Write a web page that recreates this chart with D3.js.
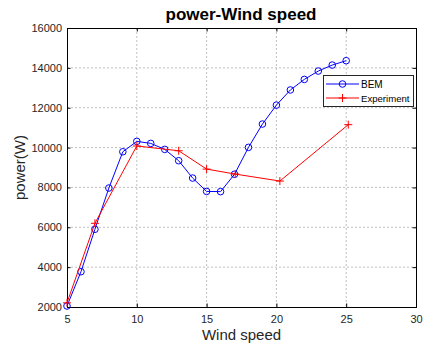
<!DOCTYPE html>
<html>
<head>
<script src="https://d3js.org/d3.v7.min.js"></script>
<style>
    body { margin: 0; background: #fff; }
    svg { display: block; font-family: 'Liberation Sans', Arial, sans-serif; }
</style>
</head>
<body>
<div id="chart"></div>
<script>

// BEM result, integer wind speeds 5..25
var bemSpeed = [5, 6, 7, 8, 9, 10, 11, 12, 13, 14, 15, 16, 17, 18, 19, 20, 21, 22, 23, 24, 25];
var bemPower = [2050, 3770, 5900, 7970, 9790, 10310, 10210, 9910, 9340, 8470, 7800, 7790, 8660, 10010, 11180, 12130, 12890, 13420, 13840, 14140, 14360];

// measured
var expSpeed = [5, 7, 10, 13, 15, 17.05, 20.25, 25.15];
var expPower = [2210, 6200, 10080, 9840, 8920, 8670, 8320, 11150];

var xTicks = [5, 10, 15, 20, 25, 30];
var yTicks = [2000, 4000, 6000, 8000, 10000, 12000, 14000, 16000];

var W = 423, H = 346;
var pLeft = 67, pRight = 416, pTop = 28, pBottom = 307;

var svg = d3.select("#chart").append("svg")
    .attr("width", W)
    .attr("height", H);

var x = d3.scaleLinear().domain([5, 30]).range([pLeft, pRight]);
var y = d3.scaleLinear().domain([2000, 16000]).range([pBottom, pTop]);

//grid
svg.append("g").selectAll("line").data(xTicks.slice(1, -1)).enter().append("line")
    .attr("x1", function(d) { return x(d); })
    .attr("x2", function(d) { return x(d); })
    .attr("y1", pTop).attr("y2", pBottom)
    .style("stroke", "#b0b0b0")
    .style("stroke-width", "0.8px")
    .style("stroke-dasharray", "2,2");

svg.append("g").selectAll("line").data(yTicks.slice(1, -1)).enter().append("line")
    .attr("y1", function(d) { return y(d); })
    .attr("y2", function(d) { return y(d); })
    .attr("x1", pLeft).attr("x2", pRight)
    .style("stroke", "#b0b0b0")
    .style("stroke-width", "0.8px")
    .style("stroke-dasharray", "2,2");

//axes
svg.append("g")
    .attr("transform", "translate(0," + pBottom + ")")
    .call(d3.axisBottom(x).tickValues(xTicks).tickSize(-3.5).tickPadding(8).tickFormat(d3.format("d")));
svg.append("g")
    .attr("transform", "translate(" + pLeft + ",0)")
    .call(d3.axisLeft(y).tickValues(yTicks).tickSize(-3.5).tickPadding(5).tickFormat(d3.format("d")));
svg.append("g")
    .attr("transform", "translate(" + pRight + ",0)")
    .call(d3.axisRight(y).tickValues(yTicks).tickSize(-3.5).tickFormat(""));
svg.append("g")
    .attr("transform", "translate(0," + pTop + ")")
    .call(d3.axisTop(x).tickValues(xTicks).tickSize(-3.5).tickFormat(""));

svg.selectAll(".domain").style("stroke", "#000").style("stroke-width", "1px");
svg.selectAll(".tick line").style("stroke", "#000");
svg.selectAll(".tick text")
    .style("font-family", "'Liberation Sans', Arial, sans-serif")
    .style("font-size", "11px")
    .style("fill", "#262626");

//lines
var line = d3.line()
    .x(function(d) { return x(d[0]); })
    .y(function(d) { return y(d[1]); });

var bem = d3.zip(bemSpeed, bemPower);
var exp = d3.zip(expSpeed, expPower);

svg.append("path").datum(bem)
    .attr("d", line)
    .style("fill", "none")
    .style("stroke", "#0000ff")
    .style("stroke-width", "1px");

svg.selectAll(".bem").data(bem).enter().append("circle")
    .attr("class", "bem")
    .attr("cx", function(d) { return x(d[0]); })
    .attr("cy", function(d) { return y(d[1]); })
    .attr("r", 3.3)
    .style("fill", "none")
    .style("stroke", "#0000ff")
    .style("stroke-width", "1px");

svg.append("path").datum(exp)
    .attr("d", line)
    .style("fill", "none")
    .style("stroke", "#ff0000")
    .style("stroke-width", "1px");

svg.selectAll(".exp").data(exp).enter().append("path")
    .attr("class", "exp")
    .attr("d", function(d) {
        var cx = x(d[0]), cy = y(d[1]);
        return "M" + (cx - 4) + "," + cy + "H" + (cx + 4) + "M" + cx + "," + (cy - 4) + "V" + (cy + 4);
    })
    .style("stroke", "#ff0000")
    .style("stroke-width", "1px");

//title and labels
svg.append("text")
    .attr("x", 241)
    .attr("y", 20)
    .attr("text-anchor", "middle")
    .style("font-weight", "bold")
    .style("font-size", "17px")
    .style("fill", "#000")
    .text("power-Wind speed");

svg.append("text")
    .attr("x", (pLeft + pRight) / 2)
    .attr("y", 340)
    .attr("text-anchor", "middle")
    .style("font-size", "15px")
    .style("fill", "#262626")
    .text("Wind speed");

svg.append("text")
    .attr("transform", "translate(25," + ((pTop + pBottom) / 2) + ") rotate(-90)")
    .attr("text-anchor", "middle")
    .style("font-size", "15px")
    .style("fill", "#262626")
    .text("power(W)");

//legend
var lg = svg.append("g");
lg.append("rect")
    .attr("x", 323.5).attr("y", 75.5)
    .attr("width", 90).attr("height", 31)
    .style("fill", "#fff")
    .style("stroke", "#262626")
    .style("stroke-width", "1px");

lg.append("line").attr("x1", 326).attr("x2", 359).attr("y1", 84).attr("y2", 84)
    .style("stroke", "#0000ff");
lg.append("circle").attr("cx", 342.5).attr("cy", 84).attr("r", 3.3)
    .style("fill", "none").style("stroke", "#0000ff");
lg.append("text").attr("x", 361).attr("y", 87.5)
    .style("font-size", "10px").style("fill", "#000").text("BEM");

lg.append("line").attr("x1", 326).attr("x2", 359).attr("y1", 98).attr("y2", 98)
    .style("stroke", "#ff0000");
lg.append("path").attr("d", "M338.5,98H346.5M342.5,94V102")
    .style("stroke", "#ff0000");
lg.append("text").attr("x", 361).attr("y", 101.5)
    .style("font-size", "9.6px").style("fill", "#000").text("Experiment");

</script>
</body>
</html>
